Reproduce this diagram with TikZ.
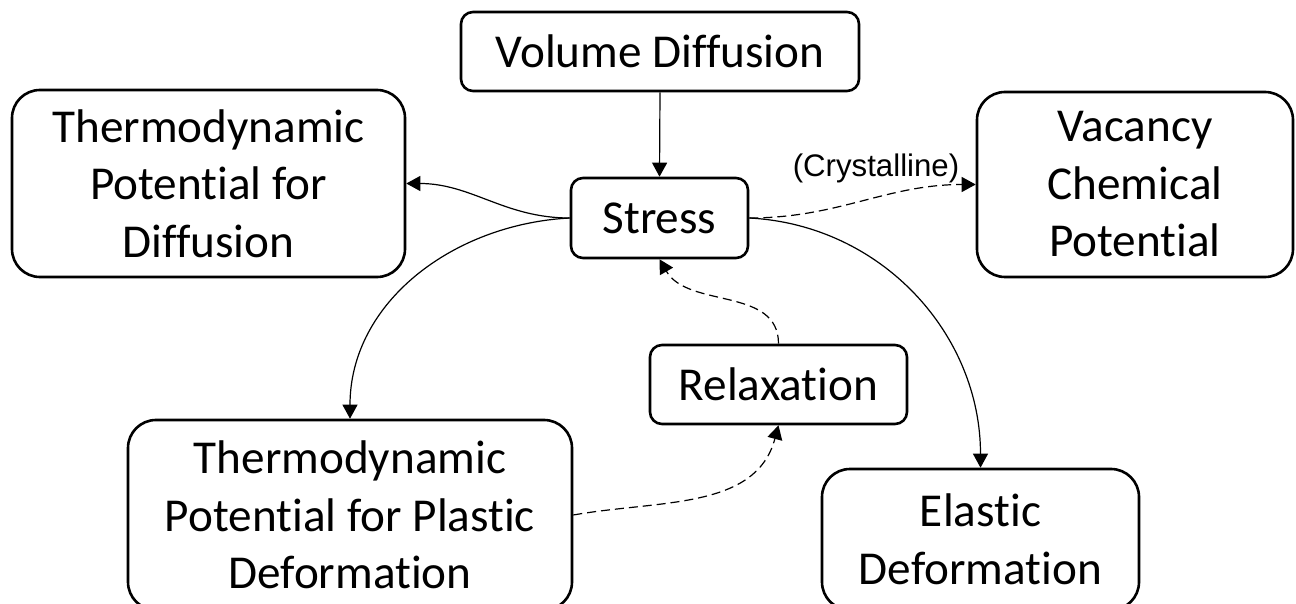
\documentclass[tikz,border=0pt]{standalone}
\usepackage{fontspec}
\setmainfont[Ligatures={NoCommon,NoRare}]{Carlito}
\newfontfamily\arialfont{Liberation Sans}
\usetikzlibrary{arrows.meta}
\begin{document}
\begin{tikzpicture}[x=0.5pt,y=0.5pt,
  box/.style={draw=black, line width=1.3pt, rounded corners=14pt, align=center,
    inner sep=0pt, font=\fontsize{23.6}{28.75}\selectfont},
  smallbox/.style={box, rounded corners=6pt},
  conn/.style={line width=0.6pt, -{Triangle[length=7pt,width=7.5pt]}},
  dconn/.style={conn, dash pattern=on 4.5pt off 2.5pt}]
\useasboundingbox (0,0) rectangle (1296,-604);
\begin{scope}
\clip (0,0) rectangle (1296,-604);
\node[smallbox, minimum width=199pt, minimum height=39.5pt] (vol) at (660,-51.5) {Volume Diffusion};
\node[box, minimum width=196.5pt, minimum height=93.5pt] (tdiff) at (208.5,-183.5) {Thermodynamic\\Potential for\\Diffusion};
\node[smallbox, minimum width=88.5pt, minimum height=40pt] (stress) at (659.5,-218) {Stress};
\node[box, minimum width=158pt, minimum height=92.5pt] (vac) at (1135,-184.5) {Vacancy\\Chemical\\Potential};
\node[smallbox, minimum width=128.5pt, minimum height=39.5pt] (relax) at (778.5,-384.5) {Relaxation};
\node[box, minimum width=222pt, minimum height=95pt] (tplast) at (350,-515) {Thermodynamic\\Potential for Plastic\\Deformation};
\node[box, minimum width=158.5pt, minimum height=70.5pt] (elastic) at (980.5,-539.5) {Elastic\\Deformation};
\node[font=\arialfont\fontsize{15.6}{18}\selectfont, anchor=base, inner sep=0pt] (cry) at (876,-177) {(Crystalline)};
\draw[conn] (vol.south) -- (stress.north);
\draw[conn] (stress.west) to[out=180,in=0] (tdiff.east);
\draw[dconn] (stress.east) to[out=0,in=180] (vac.west);
\draw[conn] (stress.west) to[out=183,in=90] (tplast.north);
\draw[conn] (stress.east) to[out=-3,in=90] (elastic.north);
\draw[dconn] (tplast.east) to[out=10,in=-105] (relax.south);
\draw[dconn] (relax.north) to[out=90,in=-60] (stress.south);
\end{scope}
\end{tikzpicture}
\end{document}
